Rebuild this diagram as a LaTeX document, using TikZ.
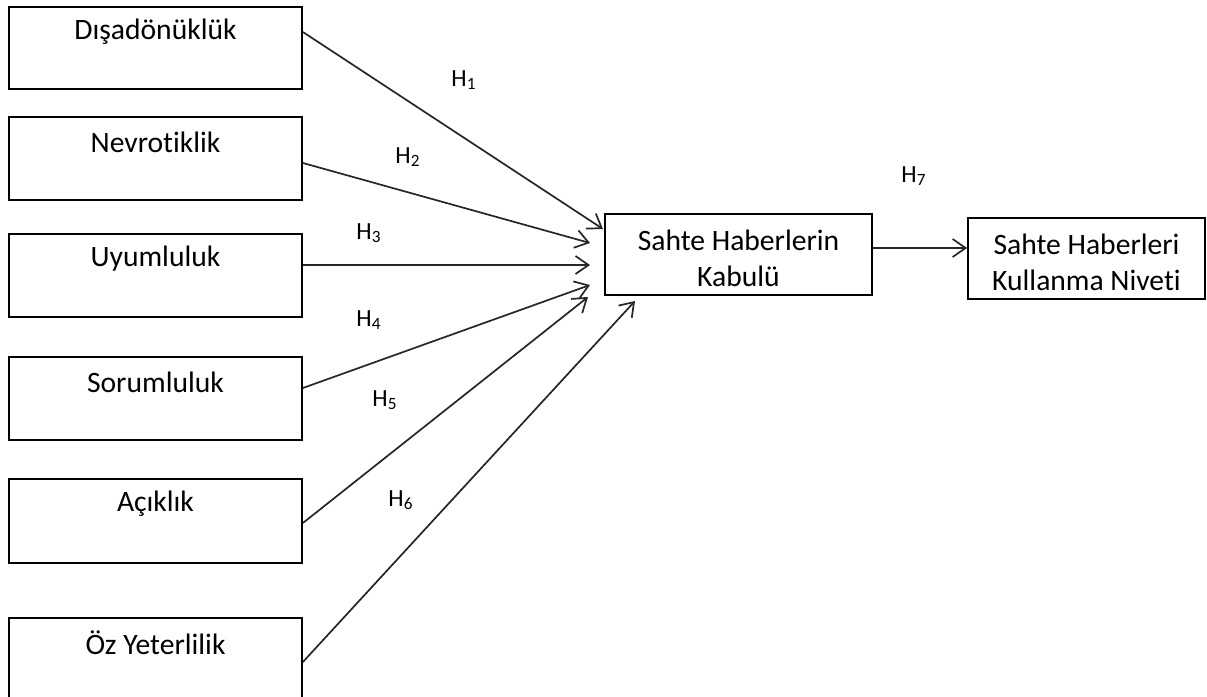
\documentclass[tikz,border=0pt]{standalone}
\usepackage{fontspec}
\setmainfont{Carlito}[Ligatures={NoCommon}]
\usetikzlibrary{arrows.meta}
\begin{document}
\begin{tikzpicture}[x=0.5pt,y=-0.5pt,
  leftbox/.style={draw=black, line width=0.9pt, inner sep=0pt, minimum width=146.5pt},
  midbox/.style={draw=black, line width=0.9pt, inner sep=0pt, minimum height=40.5pt},
  boxtext/.style={inner sep=0pt, font=\fontsize{14.8}{18}\selectfont, align=center},
  hlbl/.style={inner sep=0pt, font=\fontsize{12.3}{14}\selectfont},
  arr/.style={draw=black!85, line width=0.85pt, -{Straight Barb[length=6.5pt,width=9pt,line width=0.85pt]}}
]
\clip (0,0) rectangle (1207,697);
\fill[white] (0,0) rectangle (1207,697);

% left boxes
\node[leftbox, minimum height=41pt]   (b1) at (155.5,48)    {};
\node[leftbox, minimum height=41.5pt] (b2) at (155.5,158.5) {};
\node[leftbox, minimum height=41.5pt] (b3) at (155.5,275.5) {};
\node[leftbox, minimum height=41.5pt] (b4) at (155.5,398.5) {};
\node[leftbox, minimum height=42pt]   (b5) at (155.5,521)   {};
\node[leftbox, minimum height=41pt]   (b6) at (155.5,659)   {};

\node[boxtext] (l1) at ([yshift=-13pt]b1.north) {Dışadönüklük};
\node[boxtext] (l2) at ([yshift=-13pt]b2.north) {Nevrotiklik};
\node[boxtext] (l3) at ([yshift=-13pt]b3.north) {Uyumluluk};
\node[boxtext] (l4) at ([yshift=-13pt]b4.north) {Sorumluluk};
\node[boxtext] (l5) at ([yshift=-13pt]b5.north) {Açıklık};
\node[boxtext] (l6) at ([yshift=-13pt]b6.north) {Öz Yeterlilik};

% middle and right boxes
\node[midbox, minimum width=133.5pt] (c) at (738.5,254.5) {};
\node[boxtext] (ct) at ([yshift=-2pt]c.center) {Sahte Haberlerin\\Kabulü};
\node[midbox, minimum width=118.5pt] (r) at (1086.5,258.5) {};
\node[boxtext] (rt) at ([yshift=-2pt]r.center) {Sahte Haberleri\\Kullanma Niveti};

% arrow tips
\coordinate (t1) at (603,229);
\coordinate (t2) at (590,243);
\coordinate (t3) at (590,265);
\coordinate (t4) at (590,285);
\coordinate (t5) at (588,297);
\coordinate (t6) at (635,301);

\draw[arr] ([yshift=8pt]b1.east)    -- (t1);
\draw[arr] ([yshift=-2.25pt]b2.east) -- (t2);
\draw[arr] ([yshift=5.25pt]b3.east) -- (t3);
\draw[arr] ([yshift=5.25pt]b4.east) -- (t4);
\draw[arr] ([yshift=-1pt]b5.east)   -- (t5);
\draw[arr] ([yshift=-1.5pt]b6.east) -- (t6);
\draw[arr] ([yshift=3.25pt]c.east) -- ([yshift=3.25pt]c.east -| r.west);

% hypothesis labels
\node[hlbl] (h1) at (464,80)  {H\textsubscript{1}};
\node[hlbl] (h2) at (408,157) {H\textsubscript{2}};
\node[hlbl] (h3) at (369,233) {H\textsubscript{3}};
\node[hlbl] (h4) at (369,320) {H\textsubscript{4}};
\node[hlbl] (h5) at (385,400) {H\textsubscript{5}};
\node[hlbl] (h6) at (401,500) {H\textsubscript{6}};
\node[hlbl] (h7) at (914,176) {H\textsubscript{7}};
\end{tikzpicture}
\end{document}
